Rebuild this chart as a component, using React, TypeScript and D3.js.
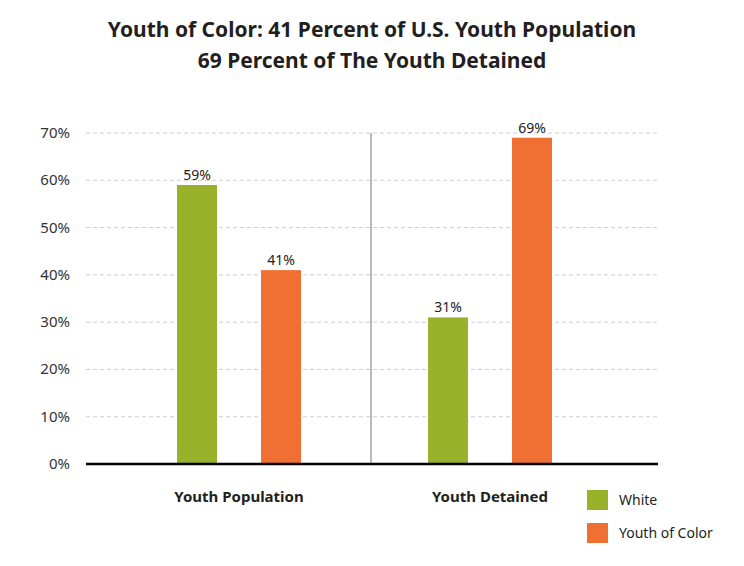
import React from "react";
import * as d3 from "d3";

const categories = ["Youth Population", "Youth Detained"];
const seriesNames = ["White", "Youth of Color"];
const whiteValues = [59, 31];
const colorValues = [41, 69];
const yTicks = [0, 10, 20, 30, 40, 50, 60, 70];
const titleLines = [
  "Youth of Color: 41 Percent of U.S. Youth Population",
  "69 Percent of The Youth Detained",
];
const seriesColors = ["#99B12B", "#F07033"];

const W = 744;
const H = 566;
const plotLeft = 86;
const plotRight = 658;
const plotTop = 133;
const plotBottom = 464;

export default function App() {
  const y = d3.scaleLinear().domain([0, 70]).range([plotBottom, plotTop]);
  const x0 = d3.scaleBand<string>().domain(categories).range([113.5, 615.5]).padding(0);
  const x1 = d3
    .scaleBand<string>()
    .domain(seriesNames)
    .range([0, x0.bandwidth()])
    .paddingInner(0.524)
    .paddingOuter(0.756);
  const values = [whiteValues, colorValues];
  const font = "'Noto Sans', 'Open Sans', sans-serif";

  return (
    <svg width={W} height={H} style={{ position: "absolute", left: 0, top: 0, background: "#fff" }} fontFamily={font}>
      {titleLines.map((t, i) => (
        <text key={t} x={W / 2} y={37 + i * 31} textAnchor="middle" fontSize={21} fontWeight="bold" fill="#231f20">
          {t}
        </text>
      ))}
      {yTicks.map((t) => (
        <g key={t}>
          {t > 0 && (
            <line x1={plotLeft} x2={plotRight} y1={y(t)} y2={y(t)} stroke="#cfcfcf" strokeDasharray="4,3" strokeWidth={1} />
          )}
          <text x={70} y={y(t) + 5} textAnchor="end" fontSize={15} fill="#333">
            {t}%
          </text>
        </g>
      ))}
      <line x1={371} x2={371} y1={plotTop} y2={plotBottom} stroke="#777" strokeWidth={1} />
      {categories.map((c, ci) =>
        seriesNames.map((s, si) => {
          const v = values[si][ci];
          const bx = (x0(c) as number) + (x1(s) as number);
          return (
            <g key={c + s}>
              <rect x={bx} y={y(v)} width={x1.bandwidth()} height={plotBottom - y(v)} fill={seriesColors[si]} />
              <text x={bx + x1.bandwidth() / 2} y={y(v) - 5} textAnchor="middle" fontSize={14} fill="#222">
                {v}%
              </text>
            </g>
          );
        })
      )}
      <line x1={plotLeft} x2={plotRight} y1={plotBottom} y2={plotBottom} stroke="#000" strokeWidth={2.5} />
      {categories.map((c) => (
        <text key={c} x={(x0(c) as number) + x0.bandwidth() / 2} y={502} textAnchor="middle" fontSize={15} fontWeight="bold" fill="#231f20">
          {c}
        </text>
      ))}
      {seriesNames.map((s, i) => (
        <g key={s}>
          <rect x={587} y={490 + i * 33} width={21} height={20} fill={seriesColors[i]} />
          <text x={619} y={505 + i * 33} fontSize={14} fill="#231f20">
            {s}
          </text>
        </g>
      ))}
    </svg>
  );
}
